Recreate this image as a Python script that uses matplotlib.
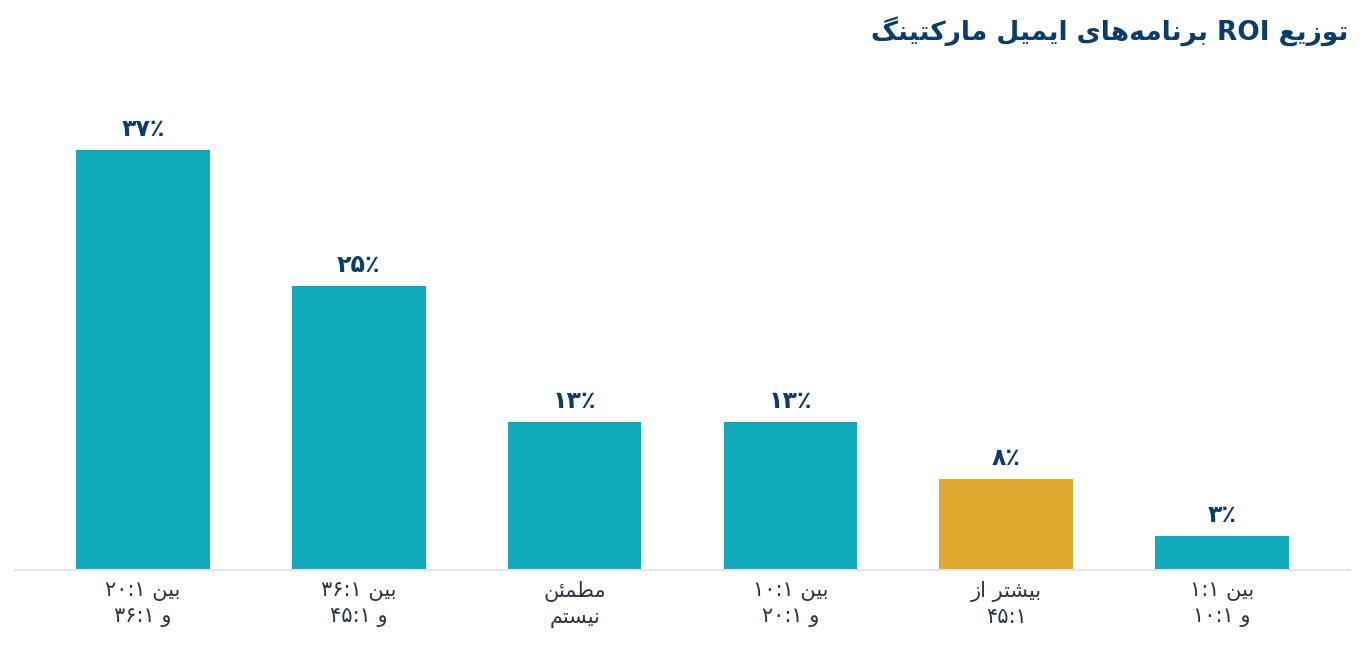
import matplotlib
matplotlib.use("Agg")
import matplotlib.pyplot as plt

# ---------------- data ----------------
title_text = "توزیع ROI برنامه‌های ایمیل مارکتینگ"
categories = [
    "بین ۲۰:۱\nو ۳۶:۱",
    "بین ۳۶:۱\nو ۴۵:۱",
    "مطمئن\nنیستم",
    "بین ۱۰:۱\nو ۲۰:۱",
    "بیشتر از\n۴۵:۱",
    "بین ۱:۱\nو ۱۰:۱",
]
values = [37, 25, 13, 13, 8, 3]
highlight = [False, False, False, False, True, False]

# ---------------- minimal Arabic/Persian shaping ----------------
FORMS = {  # isolated, final, initial, medial
    '\u0626': (0xFE89, 0xFE8A, 0xFE8B, 0xFE8C),
    '\u0627': (0xFE8D, 0xFE8E, None, None),
    '\u0628': (0xFE8F, 0xFE90, 0xFE91, 0xFE92),
    '\u062A': (0xFE95, 0xFE96, 0xFE97, 0xFE98),
    '\u0631': (0xFEAD, 0xFEAE, None, None),
    '\u0632': (0xFEAF, 0xFEB0, None, None),
    '\u0633': (0xFEB1, 0xFEB2, 0xFEB3, 0xFEB4),
    '\u0634': (0xFEB5, 0xFEB6, 0xFEB7, 0xFEB8),
    '\u0637': (0xFEC1, 0xFEC2, 0xFEC3, 0xFEC4),
    '\u0639': (0xFEC9, 0xFECA, 0xFECB, 0xFECC),
    '\u0644': (0xFEDD, 0xFEDE, 0xFEDF, 0xFEE0),
    '\u0645': (0xFEE1, 0xFEE2, 0xFEE3, 0xFEE4),
    '\u0646': (0xFEE5, 0xFEE6, 0xFEE7, 0xFEE8),
    '\u0647': (0xFEE9, 0xFEEA, 0xFEEB, 0xFEEC),
    '\u0648': (0xFEED, 0xFEEE, None, None),
    '\u06A9': (0xFB8E, 0xFB8F, 0xFB90, 0xFB91),
    '\u06AF': (0xFB92, 0xFB93, 0xFB94, 0xFB95),
    '\u06CC': (0xFBFC, 0xFBFD, 0xFBFE, 0xFBFF),
}


def _dual(c):
    return c in FORMS and FORMS[c][2] is not None


def shape_line(s):
    out = []
    n = len(s)
    for i, c in enumerate(s):
        if c not in FORMS:
            if c != '\u200c':
                out.append(c)
            continue
        prev = s[i - 1] if i > 0 else ''
        nxt = s[i + 1] if i + 1 < n else ''
        jp = _dual(prev)
        jn = _dual(c) and nxt in FORMS
        iso, fin, ini, med = FORMS[c]
        if jp and jn:
            cp = med
        elif jp:
            cp = fin
        elif jn:
            cp = ini
        else:
            cp = iso
        out.append(chr(cp))
    # visual order: reverse, then restore LTR runs
    rev = out[::-1]
    def is_ltr(ch):
        return (ch.isascii() and (ch.isalnum() or ch in ':%.')) or \
               ('\u06F0' <= ch <= '\u06F9') or ('\u0660' <= ch <= '\u0669') or ch == '\u066A'
    res = []
    i = 0
    while i < len(rev):
        if is_ltr(rev[i]):
            j = i
            while j < len(rev) and is_ltr(rev[j]):
                j += 1
            res.extend(rev[i:j][::-1])
            i = j
        else:
            res.append(rev[i])
            i += 1
    return ''.join(res)


def rtl(s):
    return '\n'.join(shape_line(line) for line in s.split('\n'))


def fa_digits(n):
    return str(n).translate(str.maketrans('0123456789', '۰۱۲۳۴۵۶۷۸۹'))


# ---------------- figure ----------------
plt.rcParams['font.family'] = ['DejaVu Sans']
W, H = 1365, 645
fig = plt.figure(figsize=(W / 100, H / 100), dpi=100)
fig.patch.set_facecolor('white')

ax = fig.add_axes([15 / W, 75 / H, 1335 / W, 454 / H])
x = list(range(len(values)))
colors = ['#E0A82E' if h else '#11AABB' for h in highlight]
bars = ax.bar(x, values, width=0.62, color=colors, zorder=2)

for xi, v in zip(x, values):
    ax.text(xi, v + 0.8, rtl(fa_digits(v) + '٪'), ha='center', va='bottom',
            fontsize=17, fontweight='bold', color='#0B3D6B', clip_on=False)

ax.set_xlim(-0.593, len(values) - 1 + 0.593)
ax.set_ylim(0, 40)
ax.set_xticks(x)
ax.set_xticklabels([rtl(c) for c in categories], fontsize=15, color='#2B3645',
                   linespacing=1.3)
ax.tick_params(axis='x', length=0, pad=8)
ax.set_yticks([])
for sp in ['top', 'right', 'left']:
    ax.spines[sp].set_visible(False)
ax.spines['bottom'].set_color('#E3E7EC')
ax.spines['bottom'].set_linewidth(1.5)

fig.text(1348 / W, 1 - 32 / H, rtl(title_text), ha='right', va='center',
         fontsize=19, fontweight='bold', color='#0B3D6B')

fig.savefig('out.png', dpi=100, facecolor='white')
